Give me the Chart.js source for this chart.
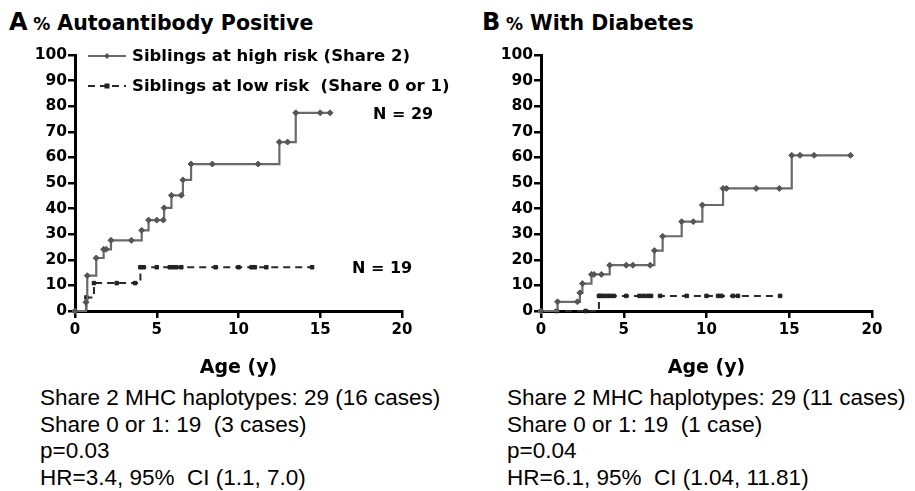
<!DOCTYPE html>
<html>
<head>
<meta charset="utf-8">
<script src="https://cdn.jsdelivr.net/npm/chart.js@4"></script>
<style>
  body { margin: 0; background: #fff; width: 915px; height: 491px; overflow: hidden; position: relative; }
  .box { position: absolute; }
  .title { font-family: "DejaVu Sans", sans-serif; font-weight: bold; color: #000; white-space: pre; }
  .title .big { font-size: 24px; }
  .title .pct { font-size: 17px; }
  .title .txt { font-size: 20.5px; }
  .nlab { font-family: "DejaVu Sans", sans-serif; font-weight: bold; font-size: 16px; color: #000; }
  .notes { font-family: "Liberation Sans", Arial, sans-serif; font-size: 22.5px; line-height: 26.5px; color: #000; white-space: pre; }
  canvas { position: absolute; }
</style>
</head>
<body>

<div class="box title" style="left:9px; top:8px;"><span class="big">A</span> <span class="pct">%</span><span class="txt"> Autoantibody Positive</span></div>
<div class="box title" style="left:482px; top:8px;"><span class="big">B</span> <span class="pct">%</span><span class="txt"> With Diabetes</span></div>

<div style="position:absolute; left:0; top:0; width:460px; height:385px;"><canvas id="chartA"></canvas></div>
<div style="position:absolute; left:466px; top:0; width:449px; height:385px;"><canvas id="chartB"></canvas></div>

<div class="box nlab" style="left:373px; top:104px;">N = 29</div>
<div class="box nlab" style="left:352px; top:258px;">N = 19</div>

<div class="box notes" style="left:40px; top:385px;">Share 2 MHC haplotypes: 29 (16 cases)
Share 0 or 1: 19  (3 cases)
p=0.03
HR=3.4, 95%  CI (1.1, 7.0)</div>
<div class="box notes" style="left:507px; top:385px;">Share 2 MHC haplotypes: 29 (11 cases)
Share 0 or 1: 19  (1 case)
p=0.04
HR=6.1, 95%  CI (1.04, 11.81)</div>

<script>
// panel A: autoantibody positive
const ageHighA = [0, 0.67, 0.75, 1.3, 1.75, 1.9, 2.2, 3.45, 4.08, 4.5, 5.0, 5.4, 5.45, 5.9, 6.5, 6.6, 7.1, 8.4, 11.2, 12.5, 13.0, 13.5, 15.0, 15.6];
const pctHighA = [0, 3.4, 13.8, 20.7, 24.1, 24.1, 27.6, 27.6, 31.5, 35.5, 35.5, 35.5, 40.3, 45.2, 45.2, 51.2, 57.4, 57.4, 57.4, 66.0, 66.0, 77.4, 77.4, 77.4];
const ageLowA = [0, 0.7, 1.16, 2.55, 3.67, 4.0, 4.2, 5.0, 5.8, 6.0, 6.2, 6.5, 8.6, 10.0, 10.8, 11.0, 11.7, 14.5];
const pctLowA = [0, 5.3, 10.9, 10.9, 10.9, 17.1, 17.1, 17.1, 17.1, 17.1, 17.1, 17.1, 17.1, 17.1, 17.1, 17.1, 17.1, 17.1];

// panel B: with diabetes
const ageHighB = [0, 1.0, 2.2, 2.35, 2.5, 3.05, 3.2, 3.65, 4.15, 5.15, 5.55, 6.6, 6.85, 7.35, 8.5, 9.2, 9.75, 11.0, 11.2, 13.0, 14.4, 15.15, 15.65, 16.5, 18.7];
const pctHighB = [0, 3.6, 3.6, 7.1, 10.7, 14.3, 14.3, 14.3, 17.9, 17.9, 17.9, 17.9, 23.6, 29.2, 34.9, 34.9, 41.4, 47.9, 47.9, 47.9, 47.9, 60.8, 60.8, 60.8, 60.8];
const ageLowB = [0, 0.95, 2.7, 3.5, 3.6, 3.8, 4.0, 4.2, 4.4, 5.15, 5.95, 6.2, 6.45, 6.65, 7.2, 8.8, 10.0, 10.7, 10.9, 11.6, 11.9, 14.45];
const pctLowB = [0, 0, 0, 5.9, 5.9, 5.9, 5.9, 5.9, 5.9, 5.9, 5.9, 5.9, 5.9, 5.9, 5.9, 5.9, 5.9, 5.9, 5.9, 5.9, 5.9, 5.9];

const xTicks = [0, 5, 10, 15, 20];
const seriesNames = ['Siblings at high risk (Share 2)', 'Siblings at low risk  (Share 0 or 1)'];

function zip(xs, ys) {
    return xs.map((x, i) => ({ x: x, y: ys[i] }));
}

const highStyle = {
    borderColor: '#6a6a6a', borderWidth: 2.2, stepped: 'before',
    pointStyle: 'rectRot', pointRadius: 3, pointBackgroundColor: '#555', pointBorderColor: '#555', pointBorderWidth: 1
};
const lowStyle = {
    borderColor: '#2a2a2a', borderWidth: 2, borderDash: [7, 5], stepped: 'before',
    pointStyle: 'rect', pointRadius: 2.5, pointBackgroundColor: '#222', pointBorderColor: '#222', pointBorderWidth: 1
};

// legend drawn by hand in the top-left corner of panel A
const legendPlugin = {
    id: 'kmLegend',
    afterDraw(chart) {
        const ctx = chart.ctx;
        const rows = [56, 86];
        ctx.save();
        chart.data.datasets.forEach((ds, i) => {
            const y = rows[i];
            ctx.strokeStyle = ds.borderColor;
            ctx.lineWidth = 2;
            ctx.setLineDash(ds.borderDash || []);
            ctx.beginPath();
            ctx.moveTo(88, y);
            ctx.lineTo(126, y);
            ctx.stroke();
            ctx.setLineDash([]);
            ctx.fillStyle = ds.pointBackgroundColor;
            ctx.beginPath();
            if (ds.pointStyle === 'rectRot') {
                ctx.moveTo(107, y - 3); ctx.lineTo(110, y); ctx.lineTo(107, y + 3); ctx.lineTo(104, y);
            } else {
                ctx.rect(104.5, y - 2.5, 5, 5);
            }
            ctx.fill();
            ctx.fillStyle = '#000';
            ctx.font = 'bold 16.5px "DejaVu Sans"';
            ctx.textBaseline = 'middle';
            ctx.fillText(seriesNames[i], 132, y + 1);
        });
        ctx.restore();
    }
};

function makeChart(id, high, low, withLegend) {
    return new Chart(document.getElementById(id), {
        type: 'line',
        data: {
            datasets: [
                Object.assign({ label: seriesNames[0], data: high }, highStyle),
                Object.assign({ label: seriesNames[1], data: low }, lowStyle)
            ]
        },
        options: {
            responsive: true,
            maintainAspectRatio: false,
            animation: false,
            clip: false,
            layout: { padding: { left: 0, top: 55, right: id === 'chartA' ? 58 : 43, bottom: 0 } },
            plugins: { legend: { display: false }, tooltip: { enabled: false } },
            scales: {
                x: {
                    type: 'linear', min: 0, max: 20,
                    afterBuildTicks: s => { s.ticks = xTicks.map(v => ({ value: v })); },
                    afterFit: s => { s.height = 74; },
                    border: { display: true, color: '#000', width: 3 },
                    grid: { drawOnChartArea: false, drawTicks: true, tickLength: 7, color: '#000', lineWidth: 2.5 },
                    ticks: { color: '#000', font: { family: 'DejaVu Sans', weight: 'bold', size: 15 }, padding: 3, maxRotation: 0 },
                    title: { display: true, text: 'Age (y)', color: '#000', font: { family: 'DejaVu Sans', weight: 'bold', size: 19 }, padding: { top: 0, bottom: 6 } }
                },
                y: {
                    min: 0, max: 100,
                    ticks: { stepSize: 10, color: '#000', font: { family: 'DejaVu Sans', weight: 'bold', size: 15.5 }, padding: 1 },
                    afterFit: s => { s.width = 75; },
                    border: { display: true, color: '#000', width: 3 },
                    grid: { drawOnChartArea: false, drawTicks: true, tickLength: 7, color: '#000', lineWidth: 2.5 }
                }
            }
        },
        plugins: withLegend ? [legendPlugin] : []
    });
}

makeChart('chartA', zip(ageHighA, pctHighA), zip(ageLowA, pctLowA), true);
makeChart('chartB', zip(ageHighB, pctHighB), zip(ageLowB, pctLowB), false);
</script>
</body>
</html>
